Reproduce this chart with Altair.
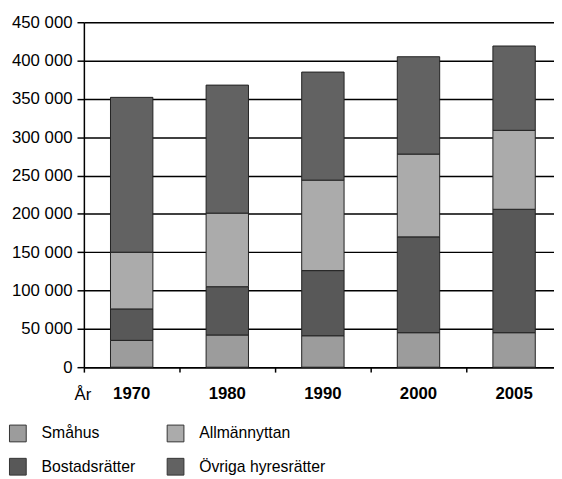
import altair as alt
import pandas as pd

years = ["1970", "1980", "1990", "2000", "2005"]
categories = ["Småhus", "Bostadsrätter", "Allmännyttan", "Övriga hyresrätter"]
colors = ["#9c9c9c", "#585858", "#ababab", "#626262"]
smahus = [35000, 42000, 41000, 45000, 45000]
bostadsratter = [41000, 63000, 85000, 125000, 161000]
allmannyttan = [74000, 96000, 118000, 108000, 103000]
ovriga = [202000, 167000, 141000, 127000, 110000]

series = [smahus, bostadsratter, allmannyttan, ovriga]
rows = []
for ci, (cat, vals) in enumerate(zip(categories, series)):
    for y, v in zip(years, vals):
        rows.append({"År": y, "Typ": cat, "Antal": v, "ordning": ci})
df = pd.DataFrame(rows)

font = "Liberation Sans"

chart = alt.Chart(df).mark_bar(width=43, stroke="#222", strokeWidth=1).encode(
    x=alt.X("År:N", sort=years,
            scale=alt.Scale(range=[0, 485], paddingInner=0, paddingOuter=0),
            axis=alt.Axis(title="År", titleX=-10, titleY=33, titleAlign="left",
                          titleBaseline="alphabetic", titleFont=font,
                          titleFontSize=17, titleFontWeight="normal",
                          labelAngle=0, labelFont=font, labelFontSize=17,
                          labelFontWeight="bold", labelColor="black",
                          tickSize=5, tickColor="black", tickWidth=1.5,
                          bandPosition=0, labelPadding=14,
                          domainColor="black", domainWidth=1.5, grid=False)),
    y=alt.Y("Antal:Q", stack="zero",
            scale=alt.Scale(domain=[0, 450000], nice=False),
            axis=alt.Axis(title=None, values=list(range(0, 450001, 50000)),
                          labelExpr="replace(format(datum.value, ','), ',', ' ')",
                          labelFont=font, labelFontSize=17, labelColor="black",
                          tickSize=7, tickColor="black", tickWidth=1.5,
                          labelPadding=5, domainColor="black", domainWidth=1.5,
                          grid=True, gridColor="black", gridWidth=1.5)),
    color=alt.Color("Typ:N",
                    scale=alt.Scale(domain=categories, range=colors),
                    legend=alt.Legend(title=None, orient="none", legendX=-76,
                                      legendY=408, columns=2, columnPadding=29,
                                      rowPadding=12, symbolType="square",
                                      symbolSize=289, symbolStrokeColor="#333",
                                      symbolStrokeWidth=1, labelFont=font,
                                      labelFontSize=16, labelColor="black",
                                      labelOffset=15)),
    order=alt.Order("ordning:Q", sort="ascending"),
).properties(
    width=477, height=350,
    autosize=alt.AutoSizeParams(type="none"),
    padding={"left": 77, "top": 11, "right": 0, "bottom": 110},
).configure_view(stroke=None).configure(background="white")

chart.save("out.html", embed_options={"renderer": "svg", "actions": False})
